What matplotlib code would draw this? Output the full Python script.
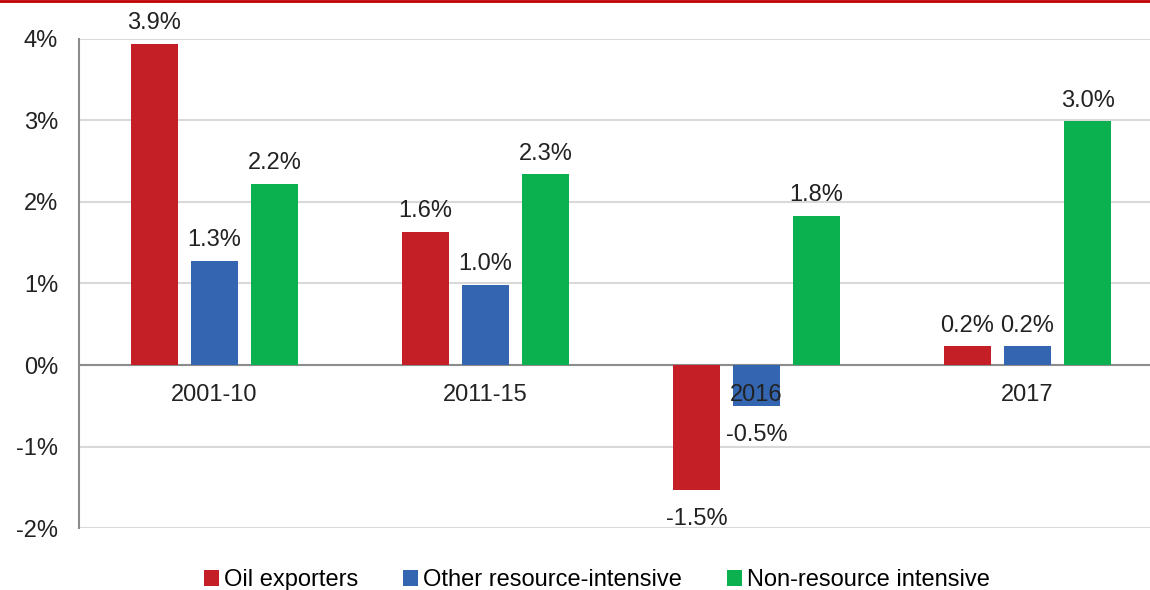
import matplotlib.pyplot as plt
import matplotlib.lines as mlines
import numpy as np

plt.rcParams['font.family'] = ['Liberation Sans', 'DejaVu Sans']

categories = ['2001-10', '2011-15', '2016', '2017']
series_names = ['Oil exporters', 'Other resource-intensive', 'Non-resource intensive']
oil = [3.94, 1.63, -1.53, 0.23]
other = [1.28, 0.98, -0.50, 0.23]
non_resource = [2.22, 2.34, 1.83, 2.99]
yticks = [-2, -1, 0, 1, 2, 3, 4]

colors = ['#c41f26', '#3465b1', '#0bb14f']

fig = plt.figure(figsize=(11.5, 5.9), dpi=100)
ax = fig.add_axes([0.0687, 0.105, 0.9426, 0.829])

x = np.arange(len(categories))
width = 0.175
step = 0.222
for i, (vals, name, col) in enumerate(zip([oil, other, non_resource], series_names, colors)):
    pos = x + (i - 1) * step
    ax.bar(pos, vals, width, color=col, label=name, zorder=3)
    for xp, v in zip(pos, vals):
        if v >= 0:
            ax.annotate(f'{v:.1f}%', (xp, v), xytext=(0, 7), textcoords='offset points',
                        ha='center', va='bottom', fontsize=17, color='#222222')
        else:
            ax.annotate(f'{v:.1f}%', (xp, v), xytext=(0, -13), textcoords='offset points',
                        ha='center', va='top', fontsize=17, color='#222222')

# category labels sit just under the zero line
for xp, c in zip(x, categories):
    ax.annotate(c, (xp, 0), xytext=(0, -14), textcoords='offset points',
                ha='center', va='top', fontsize=17, color='#222222', zorder=4)

ax.set_xlim(-0.5, 3.5)
ax.set_ylim(-2, 4)
ax.set_yticks(yticks)
ax.set_yticklabels([f'{t}%' for t in yticks], fontsize=17, color='#222222')
ax.set_xticks([])
ax.tick_params(axis='y', length=0, pad=15)
ax.grid(axis='y', color='#d9d9d9', linewidth=1.5, zorder=0)
ax.axhline(0, color='#8c8c8c', linewidth=1.5, zorder=2)
for s in ['top', 'right', 'bottom']:
    ax.spines[s].set_visible(False)
ax.spines['left'].set_color('#8c8c8c')
ax.spines['left'].set_linewidth(1.5)

# red rule at the very top of the figure
fig.add_artist(mlines.Line2D([0, 1], [0.998, 0.998], color='#c00000', linewidth=2,
                             transform=fig.transFigure))

fig.legend(loc='center', bbox_to_anchor=(0.519, 0.017), ncol=3, frameon=False,
           fontsize=17, handlelength=0.65, handleheight=0.65, handletextpad=0.2,
           columnspacing=1.9)

plt.savefig('out.png', dpi=100)
